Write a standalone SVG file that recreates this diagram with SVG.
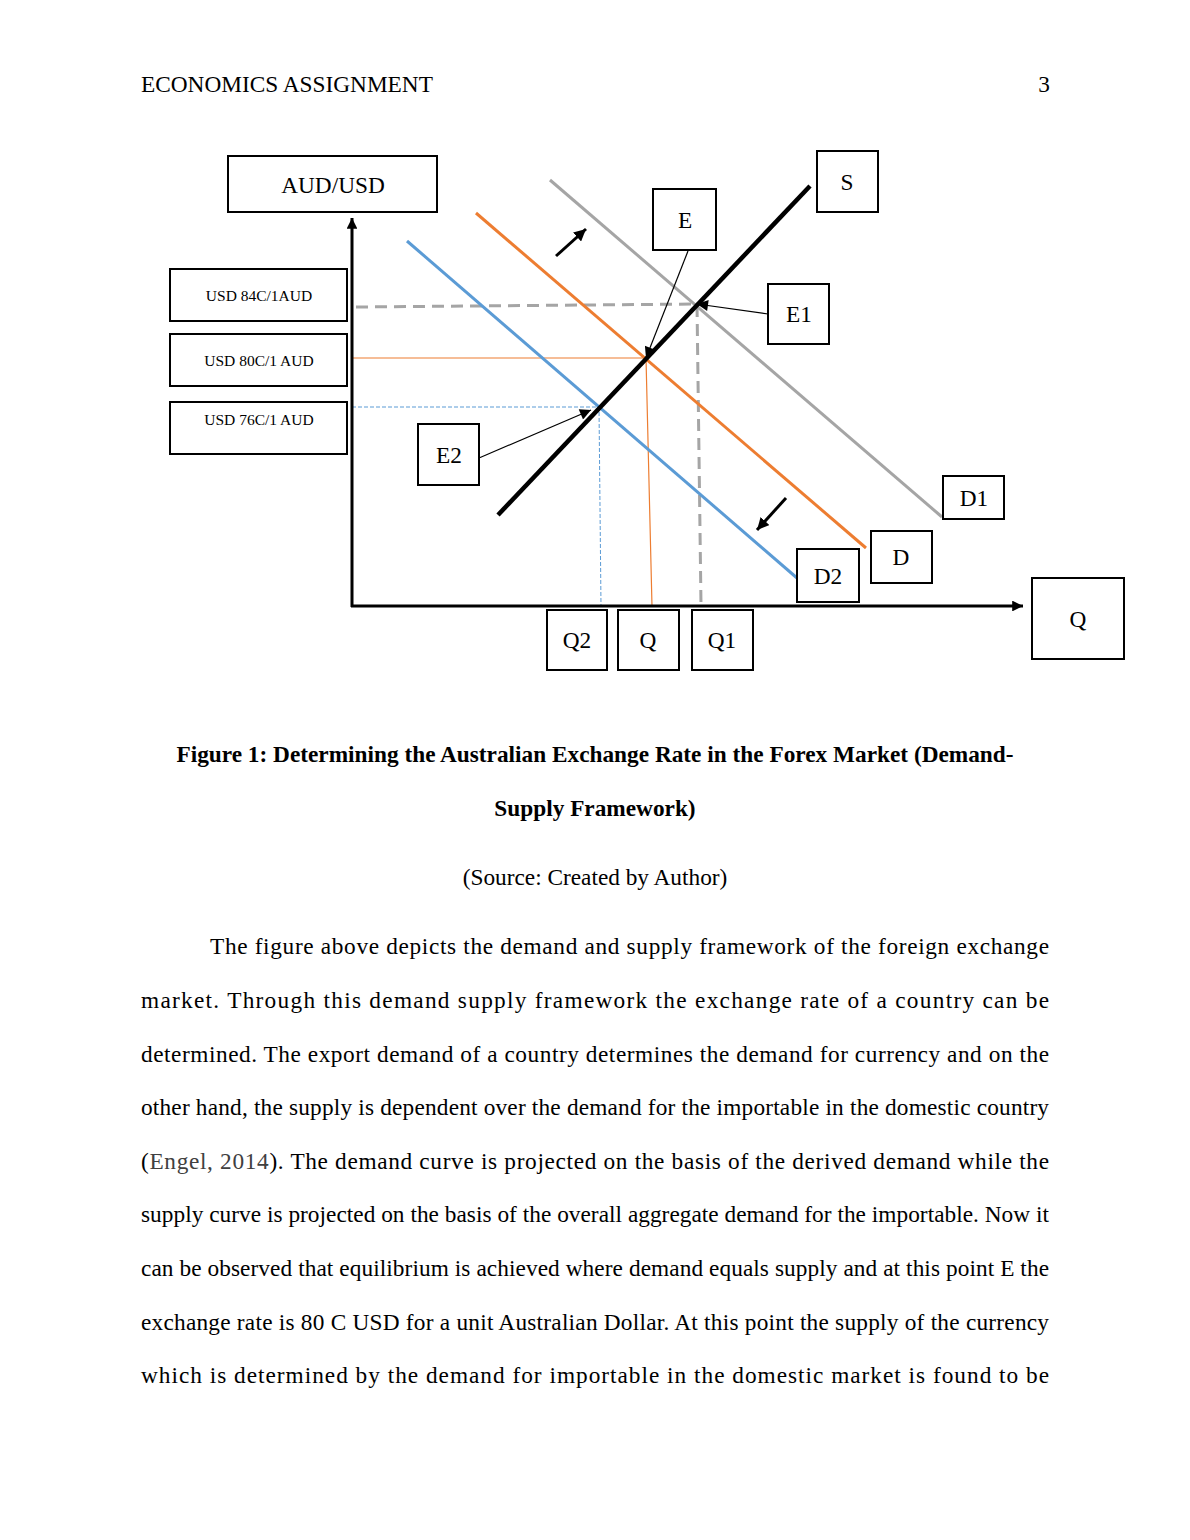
<svg xmlns="http://www.w3.org/2000/svg" width="1190" height="1540" viewBox="0 0 1190 1540">
<style>
text{font-family:"Liberation Serif","Times New Roman",serif;fill:#000}
.hdr{font-size:23.3px}
.box{fill:#fff;stroke:#000;stroke-width:2}
.lbl{font-size:23.3px;text-anchor:middle}
.sm{font-size:15.5px;text-anchor:middle}
.cap{font-size:23.3px;font-weight:bold;text-anchor:middle}
.src{font-size:23.3px;text-anchor:middle}
.body{font-size:23.3px}
.ptr{stroke:#000;stroke-width:1.2;fill:none;marker-end:url(#ah)}
</style>
<defs>
<marker id="ah" viewBox="0 0 10 10" refX="10" refY="5" markerWidth="13" markerHeight="11" markerUnits="userSpaceOnUse" orient="auto"><path d="M0,0 L10,5 L0,10 Z" fill="#000"/></marker>
<marker id="ax" viewBox="0 0 10 10" refX="10" refY="5" markerWidth="4" markerHeight="3.6" orient="auto"><path d="M0,0 L10,5 L0,10 Z" fill="#000"/></marker>
<marker id="sh" viewBox="0 0 10 10" refX="10" refY="5" markerWidth="4" markerHeight="4" orient="auto"><path d="M0,0 L10,5 L0,10 Z" fill="#000"/></marker>
</defs>
<rect width="1190" height="1540" fill="#fff"/>
<text class="hdr" x="141" y="92">ECONOMICS ASSIGNMENT</text>
<text class="hdr" x="1050" y="92" text-anchor="end">3</text>

<g id="connectors">
<!-- guide lines -->
<polyline points="356,307 697,304 701,605" fill="none" stroke="#a5a5a5" stroke-width="3" stroke-dasharray="12,7"/>
<polyline points="352,358 646,358 652,606" fill="none" stroke="#ed7d31" stroke-width="1.2"/>
<polyline points="352,407 599,407 601,606" fill="none" stroke="#5b9bd5" stroke-width="1" stroke-dasharray="4,2"/>
<!-- curves -->
<line id="D1-curve" x1="550" y1="180" x2="942" y2="517" stroke="#a5a5a5" stroke-width="3"/>
<line id="D-curve" x1="476" y1="213" x2="866" y2="548" stroke="#ed7d31" stroke-width="3"/>
<line id="D2-curve" x1="407" y1="241" x2="797" y2="578" stroke="#5b9bd5" stroke-width="3"/>
<line id="S-curve" x1="498" y1="515" x2="810" y2="186" stroke="#000" stroke-width="4.5"/>
<!-- axes -->
<line x1="352" y1="607" x2="352" y2="218" stroke="#000" stroke-width="3" marker-end="url(#ax)"/>
<line x1="351" y1="606" x2="1023" y2="606" stroke="#000" stroke-width="3" marker-end="url(#ax)"/>
<!-- shift arrows -->
<line x1="556" y1="256" x2="586" y2="229" stroke="#000" stroke-width="3" marker-end="url(#sh)"/>
<line x1="786" y1="498" x2="757" y2="530" stroke="#000" stroke-width="3" marker-end="url(#sh)"/>
<!-- pointers -->
<line class="ptr" x1="688" y1="251" x2="646" y2="358"/>
<line class="ptr" x1="768" y1="314" x2="697" y2="304"/>
<line class="ptr" x1="479" y1="458" x2="591" y2="410"/>
</g>

<g id="node-audusd"><rect class="box" x="228" y="156" width="209" height="56"/><text class="lbl" x="333" y="193">AUD/USD</text></g>
<g id="node-84"><rect class="box" x="170" y="269" width="177" height="52"/><text class="sm" x="259" y="301">USD 84C/1AUD</text></g>
<g id="node-80"><rect class="box" x="170" y="334" width="177" height="52"/><text class="sm" x="259" y="366">USD 80C/1 AUD</text></g>
<g id="node-76"><rect class="box" x="170" y="402" width="177" height="52"/><text class="sm" x="259" y="425">USD 76C/1 AUD</text></g>
<g id="node-S"><rect class="box" x="817" y="151" width="61" height="61"/><text class="lbl" x="847" y="190">S</text></g>
<g id="node-E"><rect class="box" x="653" y="189" width="63" height="61"/><text class="lbl" x="685" y="228">E</text></g>
<g id="node-E1"><rect class="box" x="768" y="284" width="61" height="60"/><text class="lbl" x="799" y="322">E1</text></g>
<g id="node-E2"><rect class="box" x="418" y="424" width="61" height="61"/><text class="lbl" x="449" y="463">E2</text></g>
<g id="node-D1"><rect class="box" x="943" y="476" width="61" height="43"/><text class="lbl" x="974" y="506">D1</text></g>
<g id="node-D"><rect class="box" x="871" y="531" width="61" height="52"/><text class="lbl" x="901" y="565">D</text></g>
<g id="node-D2"><rect class="box" x="797" y="549" width="62" height="53"/><text class="lbl" x="828" y="584">D2</text></g>
<g id="node-Qaxis"><rect class="box" x="1032" y="578" width="92" height="81"/><text class="lbl" x="1078" y="627">Q</text></g>
<g id="node-Q2"><rect class="box" x="547" y="610" width="60" height="60"/><text class="lbl" x="577" y="648">Q2</text></g>
<g id="node-Q"><rect class="box" x="618" y="610" width="61" height="60"/><text class="lbl" x="648" y="648">Q</text></g>
<g id="node-Q1"><rect class="box" x="692" y="610" width="61" height="60"/><text class="lbl" x="722" y="648">Q1</text></g>

<text class="cap" x="595" y="762">Figure 1: Determining the Australian Exchange Rate in the Forex Market (Demand-</text>
<text class="cap" x="595" y="816">Supply Framework)</text>
<text class="src" x="595" y="885">(Source: Created by Author)</text>

<text class="body" x="210" y="954" textLength="839" lengthAdjust="spacing">The figure above depicts the demand and supply framework of the foreign exchange</text>
<text class="body" x="141" y="1008" textLength="908" lengthAdjust="spacing">market. Through this demand supply framework the exchange rate of a country can be</text>
<text class="body" x="141" y="1062" textLength="908" lengthAdjust="spacing">determined. The export demand of a country determines the demand for currency and on the</text>
<text class="body" x="141" y="1115" textLength="908" lengthAdjust="spacing">other hand, the supply is dependent over the demand for the importable in the domestic country</text>
<text class="body" x="141" y="1169" textLength="908" lengthAdjust="spacing">(<tspan fill="#404040">Engel, 2014</tspan>). The demand curve is projected on the basis of the derived demand while the</text>
<text class="body" x="141" y="1222" textLength="908" lengthAdjust="spacing">supply curve is projected on the basis of the overall aggregate demand for the importable. Now it</text>
<text class="body" x="141" y="1276" textLength="908" lengthAdjust="spacing">can be observed that equilibrium is achieved where demand equals supply and at this point E the</text>
<text class="body" x="141" y="1330" textLength="908" lengthAdjust="spacing">exchange rate is 80 C USD for a unit Australian Dollar. At this point the supply of the currency</text>
<text class="body" x="141" y="1383" textLength="908" lengthAdjust="spacing">which is determined by the demand for importable in the domestic market is found to be</text>
</svg>
